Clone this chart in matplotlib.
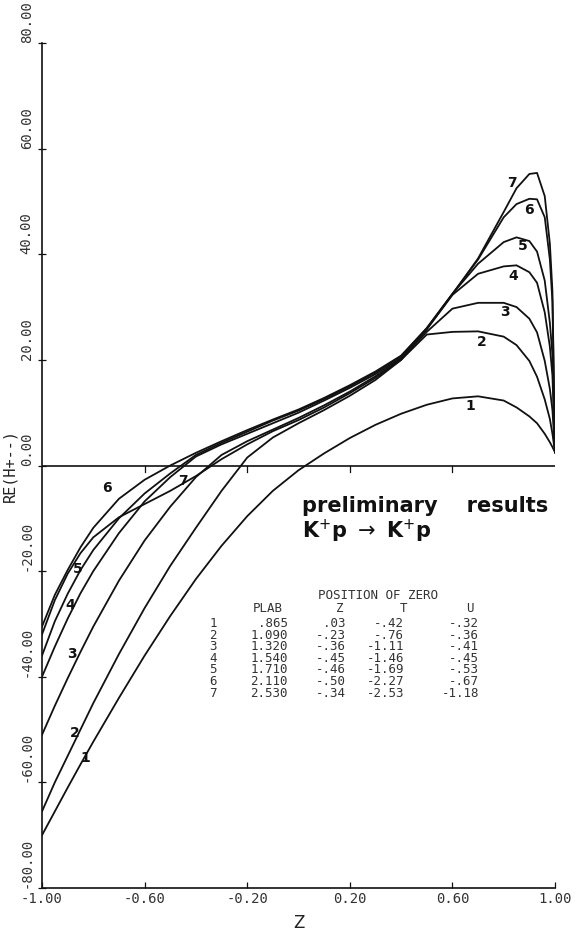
import matplotlib
matplotlib.use("Agg")
import matplotlib.pyplot as plt

# ---------------- data ----------------
z = [-1.0, -0.95, -0.9, -0.85, -0.8, -0.7, -0.6, -0.5, -0.4, -0.3, -0.2, -0.1,
     0.0, 0.1, 0.2, 0.3, 0.4, 0.5, 0.6, 0.7, 0.8, 0.85, 0.9, 0.93, 0.96, 0.98, 0.99, 1.0]

re_h1 = [-70.0, -65.5, -61.0, -56.6, -52.3, -44.0, -36.0, -28.5, -21.5, -15.2, -9.6, -4.8,
         -0.9, 2.3, 5.2, 7.7, 9.8, 11.5, 12.7, 13.1, 12.3, 11.0, 9.3, 8.0, 6.0, 4.4, 3.5, 2.5]
re_h2 = [-65.5, -60.0, -55.0, -50.0, -45.0, -35.7, -27.0, -19.0, -11.8, -4.8, 1.5, 5.3,
         8.0, 10.5, 13.2, 16.2, 20.0, 24.8, 25.3, 25.4, 24.4, 22.8, 19.8, 16.8, 12.5, 8.8, 6.0, 2.5]
re_h3 = [-51.0, -45.5, -40.3, -35.3, -30.5, -21.8, -14.2, -7.8, -2.2, 2.0, 4.6, 6.8,
         9.0, 11.4, 14.0, 16.9, 20.2, 25.3, 29.7, 30.8, 30.8, 30.0, 27.8, 25.2, 19.8, 14.5, 10.5, 2.5]
re_h4 = [-40.0, -34.3, -29.0, -24.2, -20.0, -12.8, -6.8, -2.2, 1.7, 4.0, 6.0, 8.0,
         10.0, 12.3, 14.7, 17.3, 20.4, 25.8, 32.3, 36.3, 37.7, 37.9, 36.6, 34.6, 29.0, 22.5, 17.0, 2.5]
re_h5 = [-36.0, -29.5, -24.3, -19.8, -16.0, -10.0, -5.3, -1.5, 2.0, 4.3, 6.4, 8.5,
         10.4, 12.6, 15.0, 17.6, 20.7, 26.0, 32.5, 38.2, 42.3, 43.2, 42.5, 40.5, 35.0, 27.0, 21.0, 2.5]
re_h6 = [-30.5, -24.5, -19.8, -15.5, -11.8, -6.3, -2.7, 0.0, 2.4, 4.6, 6.7, 8.7,
         10.6, 12.8, 15.2, 17.8, 20.8, 26.0, 32.5, 39.0, 47.0, 49.5, 50.5, 50.4, 47.0, 39.0, 31.0, 2.5]
re_h7 = [-32.0, -25.5, -20.5, -16.6, -13.6, -9.8, -7.3, -4.8, -2.0, 1.2, 4.0, 6.5,
         8.6, 11.0, 13.7, 16.6, 20.0, 25.8, 32.4, 39.2, 48.0, 52.5, 55.2, 55.4, 51.0, 42.0, 33.0, 2.5]

curve_ids = ["1", "2", "3", "4", "5", "6", "7"]

x_ticks = [-1.0, -0.6, -0.2, 0.2, 0.6, 1.0]
x_ticklabels = ["-1.00", "-0.60", "-0.20", "0.20", "0.60", "1.00"]
y_ticks = [-80, -60, -40, -20, 0, 20, 40, 60, 80]
y_ticklabels = ["-80.00", "-60.00", "-40.00", "-20.00", "0.00", "20.00", "40.00", "60.00", "80.00"]

table_title = "POSITION OF ZERO"
table_header = ["PLAB", "Z", "T", "U"]
plab = [".865", "1.090", "1.320", "1.540", "1.710", "2.110", "2.530"]
zero_z = [".03", "-.23", "-.36", "-.45", "-.46", "-.50", "-.34"]
zero_t = ["-.42", "-.76", "-1.11", "-1.46", "-1.69", "-2.27", "-2.53"]
zero_u = ["-.32", "-.36", "-.41", "-.45", "-.53", "-.67", "-1.18"]

# ---------------- figure ----------------
W, H = 582, 933
fig = plt.figure(figsize=(W / 100, H / 100), dpi=100)
ax = fig.add_axes([42 / W, 1 - 888 / H, (555 - 42) / W, (888 - 43) / H])
ax.set_xlim(-1, 1)
ax.set_ylim(-80, 80)

ink = "#111111"
series = [re_h1, re_h2, re_h3, re_h4, re_h5, re_h6, re_h7]
for vals in series:
    ax.plot(z, vals, color=ink, lw=1.3, solid_joinstyle="round")

# zero line with small ticks
ax.axhline(0, color=ink, lw=1.2)
for xt in x_ticks[1:-1]:
    ax.plot([xt, xt], [0, -1.2], color=ink, lw=0.9)

for s in ["top", "right"]:
    ax.spines[s].set_visible(False)
for s in ["left", "bottom"]:
    ax.spines[s].set_color(ink)
    ax.spines[s].set_linewidth(1.2)

tick_font = dict(family="DejaVu Sans Mono", size=10, color="#333333")
ax.set_xticks(x_ticks)
ax.set_xticklabels(x_ticklabels, **tick_font)
ax.set_yticks(y_ticks)
ax.set_yticklabels(y_ticklabels, rotation=90, va="bottom", **tick_font)
ax.tick_params(axis="x", direction="in", length=4, width=0.9, pad=3, colors=ink)
ax.tick_params(axis="y", direction="inout", length=6, width=0.9, pad=3, colors=ink)
for lab in ax.get_xticklabels() + ax.get_yticklabels():
    lab.set_color("#333333")

ax.set_xlabel("Z", fontsize=12, family="DejaVu Sans", color="#222222", labelpad=6)
ax.set_ylabel("RE(H+--)", fontsize=11, family="DejaVu Sans Mono", color="#222222", labelpad=2)

# curve number labels (hand written)
lab_font = dict(fontsize=10, fontweight="bold", color=ink, ha="center", va="center",
                family="DejaVu Sans")
right_pos = [(0.669, 11.2), (0.715, 23.3), (0.805, 29.0), (0.836, 35.8),
             (0.875, 41.5), (0.899, 48.4), (0.832, 53.5)]
left_pos = [(-0.832, -55.4), (-0.871, -50.7), (-0.883, -35.6), (-0.891, -26.5),
            (-0.860, -19.6), (-0.746, -4.3), (-0.45, -2.9)]
for cid, (xr, yr), (xl, yl) in zip(curve_ids, right_pos, left_pos):
    ax.text(xr, yr, cid, **lab_font)
    ax.text(xl, yl, cid, **lab_font)

# handwritten note
fig.text(302 / W, 1 - 512 / H, "preliminary    results", fontsize=15, fontweight="bold",
         color=ink, ha="left", va="baseline", family="DejaVu Sans")
fig.text(302 / W, 1 - 538 / H, r"K$^{+}$p $\rightarrow$ K$^{+}$p", fontsize=15,
         fontweight="bold", color=ink, ha="left", va="baseline", family="DejaVu Sans")

# table
tf = dict(family="DejaVu Sans Mono", size=9, color="#333333", va="baseline")
fig.text(318 / W, 1 - 599 / H, table_title, ha="left", **tf)
head_x = [268, 340, 404, 470]
for hx, ht in zip(head_x, table_header):
    fig.text(hx / W, 1 - 612 / H, ht, ha="center", **tf)
row_y0, row_dy = 627, 11.6
for i in range(len(plab)):
    yy = 1 - (row_y0 + i * row_dy) / H
    fig.text(213 / W, yy, curve_ids[i], ha="center", **tf)
    fig.text(288 / W, yy, plab[i], ha="right", **tf)
    fig.text(346 / W, yy, zero_z[i], ha="right", **tf)
    fig.text(404 / W, yy, zero_t[i], ha="right", **tf)
    fig.text(479 / W, yy, zero_u[i], ha="right", **tf)

fig.savefig("out.png", dpi=100, facecolor="white")
